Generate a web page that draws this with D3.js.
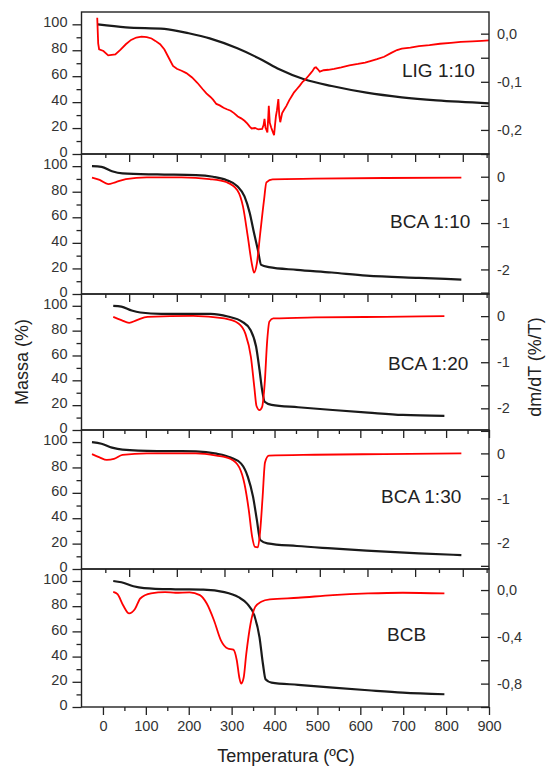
<!DOCTYPE html>
<html>
<head>
<meta charset="utf-8">
<script src="https://cdn.jsdelivr.net/npm/d3@7"></script>
<style>
  body { margin: 0; background: #fff; }
  text { font-family: "Liberation Sans", Arial, sans-serif; }
</style>
</head>
<body>
<div id="chart"></div>
<script>
// ---- data (temperatures in each panel's own x scale) ----
const panelNames = ["LIG 1:10", "BCA 1:10", "BCA 1:20", "BCA 1:30", "BCB"];
const massTicks = [0, 20, 40, 60, 80, 100];
const tempTicks = [0, 100, 200, 300, 400, 500, 600, 700, 800, 900];

const ligMassT = [34, 93, 174, 225, 269, 327, 379, 415, 467, 525, 598, 672, 745, 855];
const ligMass = [100, 97.7, 96.5, 93.1, 89.2, 81.5, 72.5, 65.3, 57.6, 52.4, 47.3, 43.7, 41.3, 39.1];
const ligDtgT = [33, 35, 37, 46, 56, 71, 82, 93, 104, 115, 126, 137, 147, 155, 165, 174, 183, 192, 200, 210,
  220, 232, 243, 254, 262, 270, 276, 283, 290, 298, 305, 313, 320, 328, 335, 342, 348, 353, 357, 364,
  371, 379, 382, 384, 386, 388, 390, 392, 393, 395, 398, 401, 404, 406, 408, 410, 413, 415, 417, 421,
  425, 430, 436, 441, 446, 452, 458, 464, 470, 476, 481, 485, 489, 492, 496, 500, 508, 518, 530, 545,
  562, 580, 595, 606, 620, 635, 650, 662, 672, 690, 708, 730, 752, 775, 796, 820, 840, 855];
const ligDtg = [0.033, -0.02, -0.0325, -0.036, -0.045, -0.043, -0.033, -0.022, -0.013, -0.008, -0.006, -0.007, -0.01, -0.015, -0.022, -0.033, -0.05, -0.067, -0.073, -0.077,
  -0.082, -0.091, -0.102, -0.115, -0.124, -0.131, -0.137, -0.146, -0.149, -0.154, -0.157, -0.160, -0.165, -0.172, -0.176, -0.181, -0.187, -0.193, -0.197, -0.196,
  -0.199, -0.198, -0.19, -0.177, -0.195, -0.2, -0.205, -0.17, -0.15, -0.185, -0.195, -0.203, -0.211, -0.19, -0.171, -0.16, -0.136, -0.17, -0.184, -0.165,
  -0.158, -0.15, -0.138, -0.13, -0.122, -0.115, -0.108, -0.1, -0.095, -0.088, -0.082, -0.077, -0.071, -0.07, -0.074, -0.079, -0.076, -0.075, -0.073, -0.07,
  -0.066, -0.063, -0.06, -0.057, -0.053, -0.048, -0.04, -0.034, -0.031, -0.029, -0.026, -0.024, -0.021, -0.019, -0.017, -0.016, -0.015, -0.014];

const bca10MassT = [22, 42, 64, 86, 159, 240, 276, 305, 327, 342, 353, 362, 370, 377, 393, 452, 525, 598, 708, 797];
const bca10Mass = [100, 99.5, 96, 94.3, 93.5, 93, 91.7, 89, 84.3, 76.4, 63.4, 47.7, 34.6, 22.8, 21, 18.9, 16.8, 14.4, 12.6, 11.3];
const bca10DtgT = [22, 38, 56, 71, 93, 137, 210, 269, 305, 327, 339, 349, 358, 362, 368, 375, 383, 388, 401, 489, 635, 797];
const bca10Dtg = [-0.02, -0.07, -0.16, -0.12, -0.05, -0.013, -0.013, -0.05, -0.12, -0.29, -0.65, -1.3, -1.91, -2.07, -1.87, -1.22, -0.5, -0.12, -0.056, -0.043, -0.028, -0.02];

const bca20MassT = [24, 43, 67, 87, 136, 251, 291, 324, 344, 357, 365, 371, 377, 393, 455, 536, 618, 699, 796];
const bca20Mass = [100, 99.4, 96.2, 94.6, 93.5, 93.5, 91.4, 87.3, 80.6, 67.2, 48.4, 32.3, 22.8, 20.2, 18.3, 16.1, 14, 12.1, 11.3];
const bca20DtgT = [24, 43, 61, 79, 104, 210, 283, 316, 332, 345, 353, 358, 365, 371, 377, 383, 388, 397, 495, 659, 796];
const bca20Dtg = [-0.015, -0.087, -0.146, -0.087, -0.015, 0.007, -0.05, -0.16, -0.38, -0.89, -1.55, -1.95, -2.04, -1.97, -1.47, -0.52, -0.12, -0.05, -0.028, -0.015, 0];

const bca30MassT = [22, 42, 64, 86, 159, 240, 283, 313, 335, 349, 360, 368, 375, 390, 452, 525, 598, 708, 797];
const bca30Mass = [100, 98.7, 95.6, 94, 92.9, 92.7, 90.9, 87.8, 83, 72.6, 56.8, 38.5, 22.8, 20.2, 18.1, 16.2, 14.4, 12.3, 11];
const bca30DtgT = [22, 38, 53, 68, 86, 137, 240, 283, 313, 331, 342, 351, 358, 364, 370, 375, 380, 385, 393, 489, 635, 797];
const bca30Dtg = [-0.015, -0.088, -0.146, -0.124, -0.035, 0, 0, -0.05, -0.124, -0.31, -0.68, -1.26, -1.85, -2.08, -2.09, -1.71, -0.97, -0.2, -0.05, -0.03, -0.015, 0];

const bcbMassT = [24, 43, 71, 96, 169, 234, 283, 316, 336, 353, 365, 373, 379, 393, 455, 536, 618, 699, 796];
const bcbMass = [100, 99, 95.8, 94.4, 93.4, 93.1, 91.2, 87.2, 82, 72.6, 55.3, 34.1, 22.1, 19.4, 17.6, 15.4, 13.3, 11.4, 10.1];
const bcbDtgT = [24, 34, 47, 61, 75, 87, 112, 145, 169, 202, 226, 242, 259, 275, 291, 304, 312, 318, 322, 328, 334, 344, 355, 369, 389, 455, 536, 618, 699, 796];
const bcbDtg = [-0.015, -0.035, -0.13, -0.2, -0.16, -0.072, -0.029, -0.017, -0.023, -0.02, -0.043, -0.115, -0.26, -0.43, -0.5, -0.51, -0.6, -0.75, -0.8, -0.75, -0.55, -0.29, -0.144, -0.1, -0.08, -0.066, -0.043, -0.029, -0.023, -0.029];

const rightTicks = [[0, -0.1, -0.2], [0, -1, -2], [0, -1, -2], [0, -1, -2], [0, -0.4, -0.8]];

// ---- layout ----
const width = 546, height = 768;
const xLeft = 81.5, xRight = 489;
const tops = [12, 154, 294, 430, 569];
const bottoms = [154, 294, 430, 569, 707];
const locale = d3.formatLocale({decimal: ",", thousands: ".", grouping: [3], currency: ["", ""], minus: "-"});

const panels = [
  {mT: ligMassT, m: ligMass, dT: ligDtgT, d: ligDtg, xDom: [0, 855], rDom: [-0.25, 0.045], rStep: 0.05, fmt: ".1f", curve: d3.curveLinear, label: [402, 77]},
  {mT: bca10MassT, m: bca10Mass, dT: bca10DtgT, d: bca10Dtg, xDom: [0, 855], rDom: [-2.53, 0.49], rStep: 0.5, fmt: "d", curve: d3.curveMonotoneX, label: [390, 228]},
  {mT: bca20MassT, m: bca20Mass, dT: bca20DtgT, d: bca20Dtg, xDom: [-50, 900], rDom: [-2.47, 0.48], rStep: 0.5, fmt: "d", curve: d3.curveMonotoneX, label: [388, 370]},
  {mT: bca30MassT, m: bca30Mass, dT: bca30DtgT, d: bca30Dtg, xDom: [0, 855], rDom: [-2.57, 0.52], rStep: 0.5, fmt: "d", curve: d3.curveMonotoneX, label: [381, 503]},
  {mT: bcbMassT, m: bcbMass, dT: bcbDtgT, d: bcbDtg, xDom: [-50, 900], rDom: [-1.0, 0.18], rStep: 0.2, fmt: ".1f", curve: d3.curveMonotoneX, label: [387, 641]}
];

const svg = d3.select("#chart")
  .append("svg")
  .attr("width", width)
  .attr("height", height);

function styleAxis(g, size) {
  g.select(".domain").remove();
  g.selectAll("line").attr("stroke", "#222").attr("stroke-width", 1.3);
  g.selectAll("text").attr("font-size", size).attr("fill", "#333")
    .attr("font-family", "'Liberation Sans', Arial, sans-serif");
}

panels.forEach((p, i) => {
  const x = d3.scaleLinear().domain(p.xDom).range([xLeft, xRight]);
  const y = d3.scaleLinear().domain([0, 109.5]).range([bottoms[i], tops[i]]);
  const yR = d3.scaleLinear().domain(p.rDom).range([bottoms[i], tops[i]]);
  const g = svg.append("g");

  // lines
  const massLine = d3.line().x((d, k) => x(p.mT[k])).y(d => y(d)).curve(d3.curveMonotoneX);
  const dtgLine = d3.line().x((d, k) => x(p.dT[k])).y(d => yR(d)).curve(p.curve);
  g.append("path").attr("d", massLine(p.m)).attr("fill", "none")
    .attr("stroke", "#1a1a1a").attr("stroke-width", 2.2);
  g.append("path").attr("d", dtgLine(p.d)).attr("fill", "none")
    .attr("stroke", "#ff0000").attr("stroke-width", 1.8);

  // left axis
  g.append("g").attr("transform", `translate(${xLeft},0)`)
    .call(d3.axisLeft(y).tickValues(massTicks).tickSize(9).tickPadding(5))
    .call(a => styleAxis(a, 14.5))
    .call(a => a.selectAll("text").attr("dy", "0.18em"));
  g.append("g").attr("transform", `translate(${xLeft},0)`)
    .call(d3.axisLeft(y).tickValues([10, 30, 50, 70, 90]).tickSize(5).tickFormat(""))
    .call(a => styleAxis(a, 14));

  // right axis (ticks inward)
  const rMinor = d3.range(Math.ceil(p.rDom[0] / p.rStep) * p.rStep, p.rDom[1], p.rStep)
    .filter(v => !rightTicks[i].some(t => Math.abs(t - v) < 1e-6));
  g.append("g").attr("transform", `translate(${xRight},0)`)
    .call(d3.axisRight(yR).tickValues(rightTicks[i]).tickSize(-8).tickPadding(8).tickFormat(locale.format(p.fmt)))
    .call(a => styleAxis(a, 14.5));
  g.append("g").attr("transform", `translate(${xRight},0)`)
    .call(d3.axisRight(yR).tickValues(rMinor).tickSize(-8).tickFormat(""))
    .call(a => styleAxis(a, 14));

  // bottom axis
  const majors = p.xDom[0] < 0 ? tempTicks : tempTicks.slice(1, 9);
  const minors = d3.range(50, p.xDom[1], 100);
  g.append("g").attr("transform", `translate(0,${bottoms[i]})`)
    .call(d3.axisBottom(x).tickValues(majors).tickSize(8).tickPadding(6)
      .tickFormat(i === 4 ? d3.format("d") : ""))
    .call(a => styleAxis(a, 14.5));
  g.append("g").attr("transform", `translate(0,${bottoms[i]})`)
    .call(d3.axisBottom(x).tickValues(minors).tickSize(4).tickFormat(""))
    .call(a => styleAxis(a, 14));

  // frame
  g.append("rect")
    .attr("x", xLeft).attr("y", tops[i])
    .attr("width", xRight - xLeft).attr("height", bottoms[i] - tops[i])
    .attr("fill", "none").attr("stroke", "#222").attr("stroke-width", 1.4);

  // panel label
  g.append("text")
    .attr("x", p.label[0]).attr("y", p.label[1])
    .attr("font-size", 19).attr("fill", "#222")
    .text(panelNames[i]);
});

// axis titles
svg.append("text")
  .attr("x", 286).attr("y", 762)
  .attr("text-anchor", "middle").attr("font-size", 18).attr("fill", "#222")
  .text("Temperatura (ºC)");

svg.append("text")
  .attr("transform", "translate(28,362) rotate(-90)")
  .attr("text-anchor", "middle").attr("font-size", 18).attr("fill", "#222")
  .text("Massa (%)");

svg.append("text")
  .attr("transform", "translate(541,367) rotate(-90)")
  .attr("text-anchor", "middle").attr("font-size", 18).attr("fill", "#222")
  .text("dm/dT (%/T)");
</script>
</body>
</html>
